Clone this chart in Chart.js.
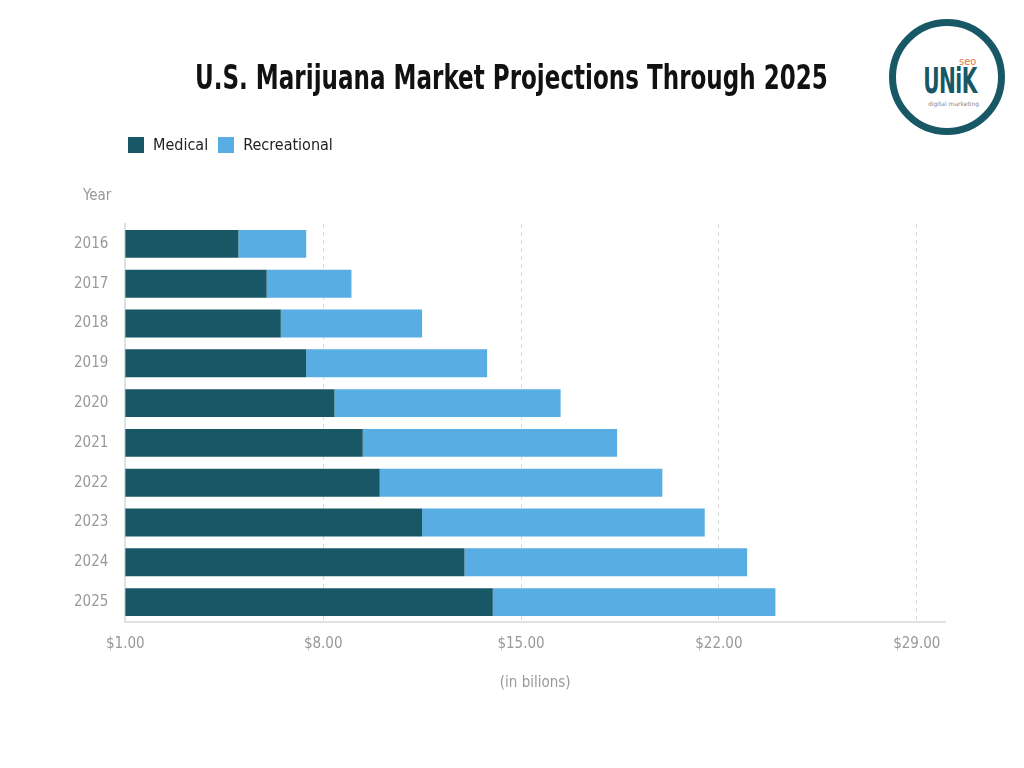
<!DOCTYPE html>
<html>
<head>
<meta charset="utf-8">
<script src="https://cdn.jsdelivr.net/npm/chart.js@4.4.0/dist/chart.umd.min.js"></script>
<style>
  html, body { margin: 0; padding: 0; background: #fff; }
  #wrap { position: relative; width: 1024px; height: 768px; font-family: 'Liberation Sans Narrow', 'DejaVu Sans Condensed', sans-serif; }
  #title { position: absolute; left: 0; width: 1022px; top: 58px; text-align: center; font-size: 33px; font-weight: bold; color: #111; white-space: nowrap; }
  #title span { display: inline-block; transform-origin: center; }
  #legend { position: absolute; left: 128px; top: 135px; display: flex; gap: 10px; font-size: 16px; color: #222; }
  #legend span.item { display: flex; align-items: center; }
  #legend span.box { width: 16px; height: 16px; margin-right: 9px; display: inline-block; }
  #yearLabel { position: absolute; left: 83px; top: 186px; font-size: 15px; color: #999; }
  #logo { position: absolute; left: 889px; top: 19px; width: 102px; height: 102px; border: 7px solid #185866; border-radius: 50%; background: #fff; }
  #logo .unk { position: absolute; left: 14px; top: 37px; width: 60px; text-align: center; font: bold 36px 'DejaVu Sans', sans-serif; line-height: 36px; color: #185866; transform: scaleX(0.56); transform-origin: center; letter-spacing: -1px; }
  #logo .seo { position: absolute; left: 63px; top: 30px; font: 11px 'DejaVu Sans Condensed', sans-serif; color: #e07a4a; line-height: 11px; }
  #logo .dm { position: absolute; left: 32px; top: 74px; font: 6px 'DejaVu Sans', sans-serif; color: #888; }
</style>
</head>
<body>
<div id="wrap">
  <canvas id="myChart" width="1024" height="768"></canvas>
  <div id="title"><span>U.S. Marijuana Market Projections Through 2025</span></div>
  <div id="legend"></div>
  <div id="yearLabel">Year</div>
  <div id="logo"><span class="unk">UNiK</span><span class="seo">seo</span><span class="dm">digital marketing</span></div>
</div>
<script>
const years = ['2016', '2017', '2018', '2019', '2020', '2021', '2022', '2023', '2024', '2025'];
const medical = [5.0, 6.0, 6.5, 7.4, 8.4, 9.4, 10.0, 11.5, 13.0, 14.0];
const recreational = [2.4, 3.0, 5.0, 6.4, 8.0, 9.0, 10.0, 10.0, 10.0, 10.0];
const xTicks = [1, 8, 15, 22, 29];

const font = "'Liberation Sans Narrow', 'DejaVu Sans Condensed', sans-serif";

const data = {
  labels: years,
  datasets: [
    {
      label: 'Medical',
      backgroundColor: '#185866',
      data: medical
    },
    {
      label: 'Recreational',
      backgroundColor: '#58aee3',
      data: recreational
    }
  ]
};

let myChart = new Chart(
  document.getElementById('myChart'),
  {
    type: 'bar',
    data: data,
    options: {
      indexAxis: 'y',
      responsive: false,
      animation: false,
      categoryPercentage: 1,
      barPercentage: 0.7,
      layout: { padding: { left: 57, right: 79, top: 224, bottom: 72 } },
      plugins: {
        legend: { display: false },
        tooltip: { enabled: false }
      },
      scales: {
        x: {
          stacked: true,
          min: 1,
          max: 30,
          afterBuildTicks: (axis) => { axis.ticks = xTicks.map(v => ({ value: v })); },
          grid: { color: '#dcdcdc', drawTicks: false },
          border: { display: true, color: '#dde3e3', width: 2, dash: [4, 4] },
          ticks: {
            color: '#999',
            padding: 13,
            font: { family: font, size: 15 },
            callback: (v) => '$' + Number(v).toFixed(2)
          },
          title: {
            display: true,
            text: '(in bilions)',
            color: '#999',
            font: { family: font, size: 15 },
            padding: { top: 8 }
          }
        },
        y: {
          stacked: true,
          grid: { display: false, drawTicks: false },
          border: { display: true, color: '#dde3e3', width: 2 },
          ticks: { color: '#999', padding: 17, font: { family: font, size: 15 } }
        }
      }
    }
  }
);

// squeeze the title to the narrow width of the original
const titleSpan = document.querySelector('#title span');
titleSpan.style.transform = 'scaleX(' + (633 / titleSpan.offsetWidth) + ')';

// HTML legend built from the datasets
const legendEl = document.getElementById('legend');
data.datasets.forEach(ds => {
  const item = document.createElement('span');
  item.className = 'item';
  item.innerHTML = '<span class="box" style="background:' + ds.backgroundColor + '"></span>' + ds.label;
  legendEl.appendChild(item);
});
</script>
</body>
</html>
